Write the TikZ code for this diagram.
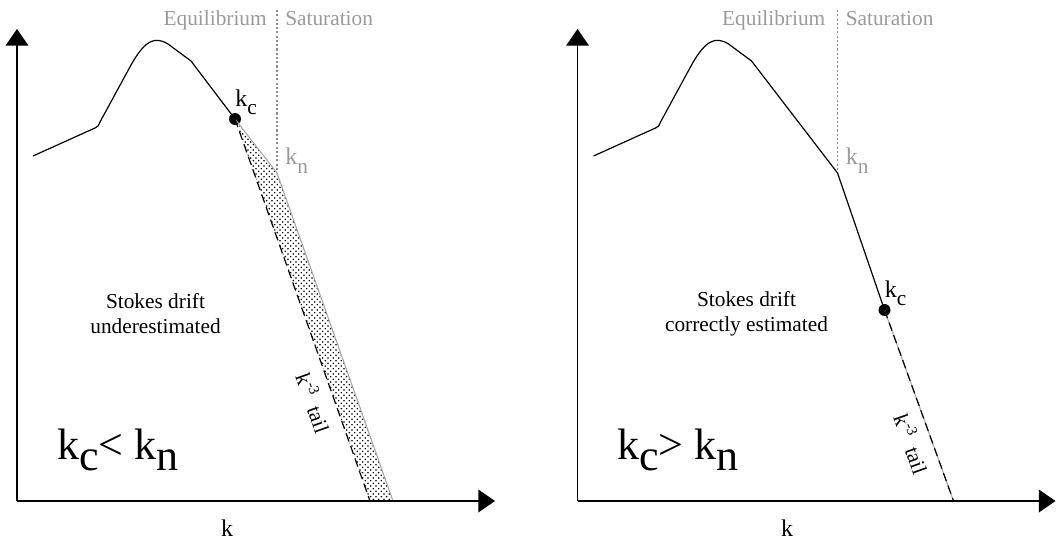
\documentclass[tikz,border=0pt]{standalone}
\usepackage{fontspec}
\setmainfont{LiberationSerif}[Extension=.ttf,UprightFont=*-Regular,BoldFont=*-Bold,ItalicFont=*-Italic,BoldItalicFont=*-BoldItalic]
\usetikzlibrary{arrows.meta,patterns}
\pgfdeclarepatternformonly{mydots}{\pgfqpoint{-1pt}{-1pt}}{\pgfqpoint{3pt}{3pt}}{\pgfqpoint{4pt}{4pt}}{%
  \pgfpathcircle{\pgfqpoint{0pt}{0pt}}{0.65pt}%
  \pgfpathcircle{\pgfqpoint{2pt}{2pt}}{0.65pt}%
  \pgfusepath{fill}}
\definecolor{txtgray}{HTML}{9A9A9A}
\definecolor{lngray}{HTML}{A8A8A8}
\definecolor{sepgray}{HTML}{8C8C8C}
\begin{document}
\begin{tikzpicture}[x=0.75pt,y=-0.75pt,
  axis/.style={line width=1.1pt,-{Triangle[width=17pt,length=12.5pt]}},
  curve/.style={line width=0.9pt,line join=round},
  tailline/.style={line width=0.9pt,dash pattern=on 6.5pt off 3.5pt},
  grayline/.style={lngray,line width=0.8pt},
  sepline/.style={sepgray,line width=0.8pt,dash pattern=on 1.6pt off 1.6pt},
  lbl/.style={font=\fontsize{16}{18.75}\selectfont,inner sep=0pt},
  graylbl/.style={lbl,text=txtgray},
  klbl/.style={font=\fontsize{18}{20}\selectfont,inner sep=0pt},
  biglbl/.style={font=\fontsize{33}{36}\selectfont,inner sep=0pt},
  dotnode/.style={circle,fill=black,inner sep=0pt,minimum size=9pt},
  taillbl/.style={lbl,rotate=-70.5},
]
\useasboundingbox (0,0) rectangle (1061,542);

% ---------------- left panel ----------------
\begin{scope}
  \coordinate (O1) at (17,501);
  \coordinate (Y1) at (17,29);
  \coordinate (X1) at (495,501);
  \coordinate (kn1) at (277,173);
  \coordinate (g1) at (393,501);
  \coordinate (d1) at (370,501);
  \coordinate (s1t) at (277,10);
  \coordinate (s1b) at (277,172);
  \node[dotnode] (kc1) at (235,119) {};
  % shaded region
  \fill[pattern=mydots] (kc1.center) -- (kn1) -- (g1) -- (d1) -- cycle;
  \draw[grayline] (kc1.center) -- (kn1) -- (g1);
  \draw[tailline] (kc1.center) -- (d1);
  \draw[curve] (33,156) -- (95,128) .. controls (98,126.5) .. (100,122) -- (131,65)
     .. controls (145,40) and (155,36) .. (168,44) -- (191,61) -- (kc1.center);
  \draw[sepline] (s1t) -- (s1b);
  \draw[axis] (O1) -- (Y1);
  \draw[axis] (O1) -- (X1);
  \node[graylbl,anchor=base east] (eq1) at (267,26) {Equilibrium};
  \node[graylbl,anchor=base west] (sat1) at (285,26) {Saturation};
  \node[klbl,anchor=base west] (kcl1) at (235,107) {k\raisebox{-6pt}{\fontsize{16}{18}\selectfont c}};
  \node[klbl,anchor=base west,text=txtgray] (knl1) at (285,165) {k\raisebox{-6pt}{\fontsize{16}{18}\selectfont n}};
  \node[lbl,align=center] (st1) at (155.5,314) {Stokes drift\\underestimated};
  \node[taillbl] (tl1) at (314,403) {k\textsuperscript{-3}\ \ tail};
  \node[biglbl,anchor=base west] (big1) at (57,459) {k\raisebox{-0.27em}{c}< k\raisebox{-0.27em}{n}};
  \node[klbl,anchor=base] (xl1) at (227,536) {k};
\end{scope}

% ---------------- right panel ----------------
\begin{scope}[xshift=420.4pt]
  \coordinate (O2) at (17,501);
  \coordinate (Y2) at (17,29);
  \coordinate (X2) at (495,501);
  \coordinate (kn2) at (277,173);
  \coordinate (g2) at (393,501);
  \coordinate (s2t) at (277,10);
  \coordinate (s2b) at (277,172);
  \node[dotnode] (kc2) at (324,310) {};
  \draw[grayline] (kc2.center) -- (g2);
  \draw[tailline] (kc2.center) -- (g2);
  \draw[curve] (33,156) -- (95,128) .. controls (98,126.5) .. (100,122) -- (131,65)
     .. controls (145,40) and (155,36) .. (168,44) -- (191,61) -- (kn2) -- (kc2.center);
  \draw[sepline] (s2t) -- (s2b);
  \draw[axis] (O2) -- (Y2);
  \draw[axis] (O2) -- (X2);
  \node[graylbl,anchor=base east] (eq2) at (265,26) {Equilibrium};
  \node[graylbl,anchor=base west] (sat2) at (285,26) {Saturation};
  \node[klbl,anchor=base west] (kcl2) at (324,297.5) {k\raisebox{-6pt}{\fontsize{16}{18}\selectfont c}};
  \node[klbl,anchor=base west,text=txtgray] (knl2) at (285,165) {k\raisebox{-6pt}{\fontsize{16}{18}\selectfont n}};
  \node[lbl,align=center] (st2) at (186,314) {Stokes drift\\correctly estimated};
  \node[taillbl] (tl2) at (351.5,444) {k\textsuperscript{-3}\ \ tail};
  \node[biglbl,anchor=base west] (big2) at (56.5,459) {k\raisebox{-0.27em}{c}> k\raisebox{-0.27em}{n}};
  \node[klbl,anchor=base] (xl2) at (226.5,536) {k};
\end{scope}
\end{tikzpicture}
\end{document}
